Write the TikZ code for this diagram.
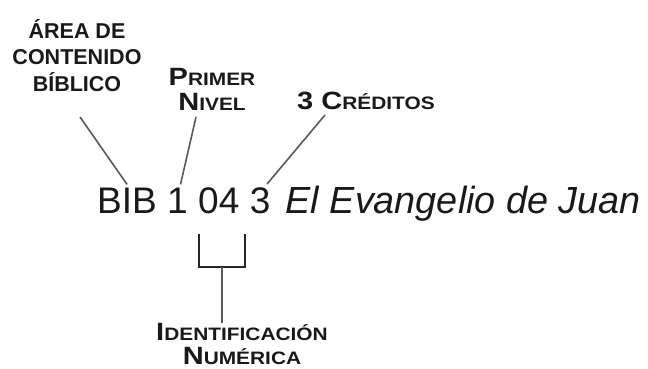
\documentclass[tikz,border=0pt]{standalone}
\usepackage{fontspec}
\setmainfont{Liberation Sans}
\newfontfamily\widefont[FakeStretch=1.16]{Liberation Sans}
\usetikzlibrary{positioning,calc}
\newcommand\smallcap[2]{#1{\fontsize{18pt}{\baselineskip}\selectfont #2}}

\begin{document}
\begin{tikzpicture}[
    x=1pt, y=-1pt,
    node distance=10pt,
    code/.style={inner sep=0pt, text=black!90, font=\fontsize{37pt}{40pt}\selectfont},
    codeit/.style={code, font=\fontsize{37.8pt}{40pt}\selectfont\itshape},
    blocklabel/.style={inner sep=0pt, align=center, text=black!90, font=\bfseries\fontsize{21.5pt}{26.7pt}\selectfont},
    sclabel/.style={inner sep=0pt, align=center, text=black!90, font=\widefont\bfseries\fontsize{25pt}{25.7pt}\selectfont},
    lead/.style={draw=black!65, line width=1.6pt},
    bracket/.style={draw=black!85, line width=2pt}
]
\useasboundingbox (0,0) rectangle (648,369);
% course code
\node[code, anchor=base west] (bib) at (97,213) {BIB};
\node[code, base right=of bib] (one) {1};
\node[code, base right=of one] (zerofour) {04};
\node[code, base right=of zerofour] (three) {3};
\node[codeit, base right=15pt of three] (title) {El Evangelio de Juan};
% labels
\node[blocklabel, anchor=south] (area) at (77,92) {ÁREA DE\\CONTENIDO\\BÍBLICO};
\node[sclabel, anchor=south] (level) at (212,111) {\smallcap{P}{RIMER}\\\smallcap{N}{IVEL}};
\node[sclabel, anchor=base west] (credits) at (297,110) {\smallcap{3 C}{RÉDITOS}};
\node[sclabel, anchor=south, font=\widefont\bfseries\fontsize{25pt}{24pt}\selectfont] (ident) at (242,365) {\smallcap{I}{DENTIFICACIÓN}\\\smallcap{N}{UMÉRICA}};
% leaders
\draw[lead] ([shift={(3pt,-25pt)}]area.south) -- ([yshift=3pt]bib.north);
\draw[lead] ([shift={(-16pt,-6pt)}]level.south) -- ([shift={(3pt,3pt)}]one.north);
\draw[lead] ([shift={(28pt,-5pt)}]credits.base west) -- ([shift={(7pt,3pt)}]three.north);
% bracket under 04
\coordinate (bl) at ([shift={(1pt,-20pt)}]zerofour.south west);
\coordinate (br) at ([shift={(5pt,-20pt)}]zerofour.south east);
\coordinate (bm) at ($(bl)!0.5!(br)+(0,33)$);
\draw[bracket] (bl) -- ++(0,33) -| (br);
\draw[lead] (bm) -- (bm |- ident.north);
\end{tikzpicture}
\end{document}
